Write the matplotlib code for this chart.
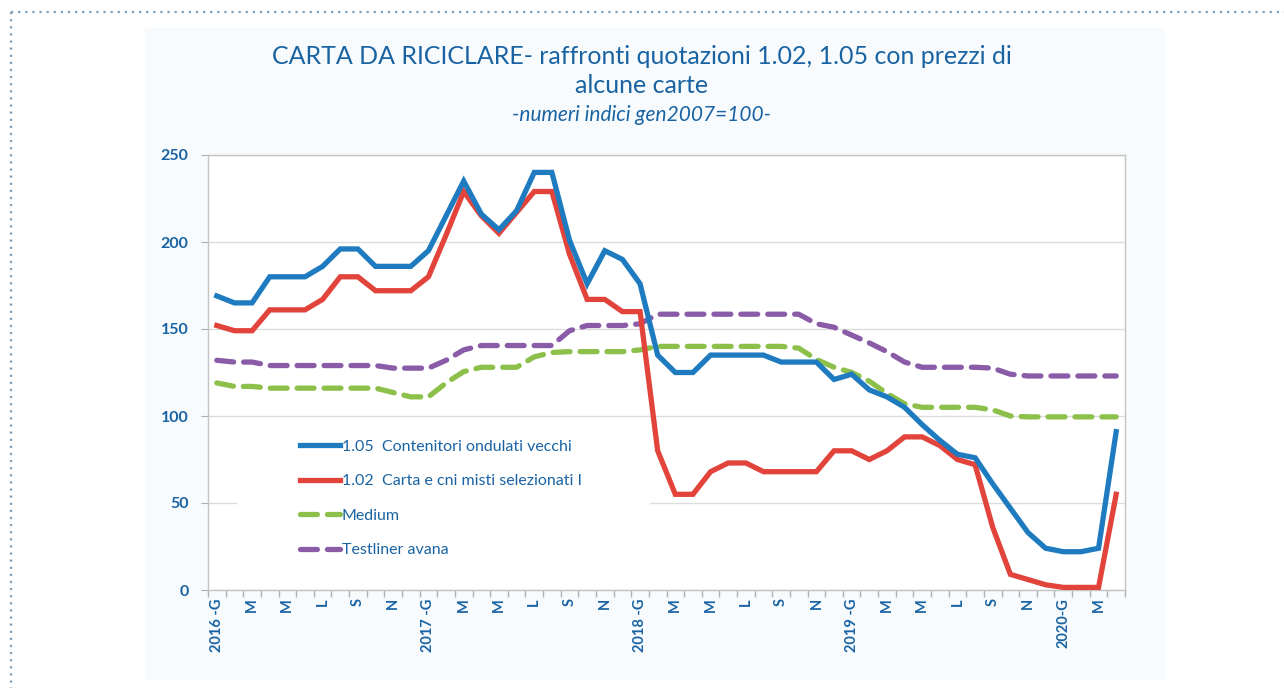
import matplotlib
matplotlib.use("Agg")
import matplotlib.pyplot as plt
from matplotlib.patches import Rectangle
import numpy as np

# ---------------- data ----------------
months = ["G", "F", "M", "A", "M", "G", "L", "A", "S", "O", "N", "D"]
years = [2016, 2017, 2018, 2019, 2020]
n_points = 52  # Jan 2016 .. Apr 2020

blue_105 = [169, 165, 165, 180, 180, 180, 186, 196, 196, 186, 186, 186,
            195, 215, 235, 216, 207, 218, 240, 240, 201, 176, 195, 190,
            176, 135, 125, 125, 135, 135, 135, 135, 131, 131, 131, 121,
            124, 115, 111, 105, 95, 86, 78, 76, 61, 47, 33, 24,
            22, 22, 24, 91]
red_102 = [152, 149, 149, 161, 161, 161, 167, 180, 180, 172, 172, 172,
           180, 204, 229, 215, 205, 217, 229, 229, 193, 167, 167, 160,
           160, 80, 55, 55, 68, 73, 73, 68, 68, 68, 68, 80,
           80, 75, 80, 88, 88, 83, 75, 72, 36, 9, 6, 3,
           1.5, 1.5, 1.5, 55]
medium = [119, 117, 117, 116, 116, 116, 116, 116, 116, 116, 113.5, 111,
          111, 119, 125.5, 128, 128, 128, 134, 136.5, 137, 137, 137, 137,
          138, 140, 140, 140, 140, 140, 140, 140, 140, 139, 132.5, 128,
          125, 120, 113, 107, 105, 105, 105, 105, 103.5, 100, 99.5, 99.5,
          99.5, 99.5, 99.5, 99.5]
testliner = [132, 131, 131, 129, 129, 129, 129, 129, 129, 129, 127.5, 127.5,
             127.5, 132, 138, 140.5, 140.5, 140.5, 140.5, 140.5, 149, 152, 152, 152,
             153, 158.5, 158.5, 158.5, 158.5, 158.5, 158.5, 158.5, 158.5, 158.5, 153, 151,
             146.5, 142, 137, 131, 128, 128, 128, 128, 127.5, 124, 123, 123,
             123, 123, 123, 123]

labels_series = ["1.05  Contenitori ondulati vecchi",
                 "1.02  Carta e cni misti selezionati I",
                 "Medium",
                 "Testliner avana"]

title = "CARTA DA RICICLARE- raffronti quotazioni 1.02, 1.05 con prezzi di\nalcune carte"
subtitle = "-numeri indici gen2007=100-"

# tick labels: every other month
tick_labels = []
for i in range(n_points):
    y = years[i // 12]
    m = months[i % 12]
    if i % 2 == 0:
        if i % 12 == 0:
            tick_labels.append(f"{y} -G" if y != 2020 else f"{y}-G")
        else:
            tick_labels.append(m)
    else:
        tick_labels.append("")

# ---------------- style ----------------
txt_blue = "#1a63a3"
c_blue = "#1f7bbf"
c_red = "#e2443b"
c_green = "#8cc04a"
c_purple = "#8a5ca8"
grid_c = "#dcdcdc"

plt.rcParams['font.family'] = ['Lato', 'DejaVu Sans']

fig = plt.figure(figsize=(12.84, 6.88), dpi=100)
fig.patch.set_facecolor("white")

# light panel background
bg = Rectangle((145 / 1284, 8 / 688), (1165 - 145) / 1284, (660 - 8) / 688,
               transform=fig.transFigure, facecolor="#f7fbfd",
               edgecolor="none", zorder=-10)
fig.patches.append(bg)
# dotted frame (left & top)
fig.lines.append(plt.Line2D([11 / 1284, 11 / 1284], [1 - 12 / 688, 0], transform=fig.transFigure,
                            color="#7f9fb8", lw=1.6, linestyle=(0, (1, 2.2)), zorder=-5))
fig.lines.append(plt.Line2D([11 / 1284, 1], [1 - 12 / 688, 1 - 12 / 688], transform=fig.transFigure,
                            color="#7f9fb8", lw=1.6, linestyle=(0, (1, 2.2)), zorder=-5))

ax = fig.add_axes([208 / 1284, 98 / 688, (1125 - 208) / 1284, (590 - 155) / 688])
ax.set_zorder(5)
ax.set_facecolor("white")

x = np.arange(n_points)
ax.plot(x, blue_105, color=c_blue, lw=3.8, solid_joinstyle="miter", label=labels_series[0], zorder=4)
ax.plot(x, red_102, color=c_red, lw=3.8, solid_joinstyle="miter", label=labels_series[1], zorder=3)
ax.plot(x, medium, color=c_green, lw=3.8, dashes=(3.2, 1.9), dash_capstyle="round",
        label=labels_series[2], zorder=2)
ax.plot(x, testliner, color=c_purple, lw=3.8, dashes=(3.2, 1.9), dash_capstyle="round",
        label=labels_series[3], zorder=2)

ax.set_xlim(-0.5, n_points - 0.5)
ax.set_ylim(0, 250)
ax.set_yticks([0, 50, 100, 150, 200, 250])
ax.yaxis.grid(True, color=grid_c, lw=1.0)
ax.set_axisbelow(True)

# white legend area hiding the grid (as in the original)
ax.add_patch(Rectangle((0.032, 0.05), 0.45, 0.32, transform=ax.transAxes,
                       facecolor="white", edgecolor="none", zorder=1.5))

ax.set_xticks(x)
ax.set_xticklabels(tick_labels, rotation=90, fontsize=10.5, fontweight="bold", color=txt_blue)
ax.tick_params(axis="x", length=0, pad=6)
ax.set_xticks(np.arange(-0.5, n_points, 1), minor=True)
ax.tick_params(axis="x", which="minor", length=5, color="#b0b0b0", width=1)
ax.tick_params(axis="y", labelsize=11.5, labelcolor=txt_blue, length=5, color="#b0b0b0", pad=9)
for lab in ax.get_yticklabels():
    lab.set_fontweight("bold")

for s in ax.spines.values():
    s.set_color("#c4c4c4")
    s.set_linewidth(1.0)

leg = ax.legend(loc="upper left", bbox_to_anchor=(0.093, 0.36), frameon=False,
                fontsize=11.5, handlelength=2.5, handletextpad=0.15,
                labelspacing=1.27, borderpad=0.4, borderaxespad=0)
for t in leg.get_texts():
    t.set_color(txt_blue)

fig.text(0.5, 1 - 71 / 688, title, ha="center", va="center", fontsize=18,
         color=txt_blue, linespacing=1.3)
fig.text(0.5, 1 - 115 / 688, subtitle, ha="center", va="center", fontsize=15,
         color=txt_blue, style="italic")

fig.savefig("out.png", dpi=100)
